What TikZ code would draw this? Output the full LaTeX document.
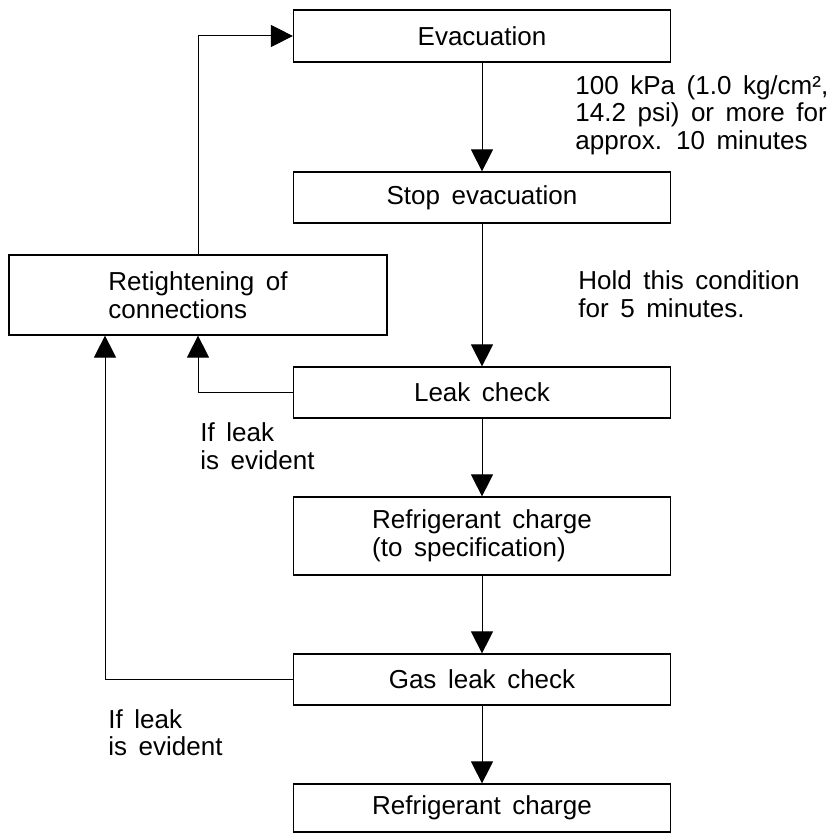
\documentclass[tikz,border=0pt]{standalone}
\usepackage{fontspec}
\setmainfont{Liberation Sans}[WordSpace=1.6]
\usetikzlibrary{arrows.meta}

\begin{document}
\begin{tikzpicture}[x=0.5pt, y=-0.5pt, font=\fontsize{13}{13.75}\selectfont,
	box/.style={draw, line width=0.6pt, minimum width=188.5pt, inner sep=0pt},
	arr/.style={line width=0.5pt, -{Triangle[length=11pt, width=11pt]}},
	note/.style={anchor=west, align=left, inner sep=0pt}]
	\useasboundingbox (0,0) rectangle (840,834);
	\node [box, minimum height=26pt] (evac) at (482,36) {Evacuation};
	\node [box, minimum height=25.5pt] (stopevac) at (482,197.5) {Stop evacuation};
	\node [box, minimum height=40pt, minimum width=189pt, align=left] (retight) at (198,295) {Retightening of\\connections};
	\node [box, minimum height=25.5pt] (leak) at (482,392.5) {Leak check};
	\node [box, minimum height=39pt, align=left] (charge) at (482,536) {Refrigerant charge\\(to specification)};
	\node [box, minimum height=25.5pt] (gasleak) at (482,679.5) {Gas leak check};
	\node [box, minimum height=24pt] (final) at (482,808) {Refrigerant charge};
	\node [note] (vacnote) at (575,115) {100 kPa (1.0 kg/cm²,\\14.2 psi) or more for\\approx. 10 minutes};
	\node [note] (holdnote) at (578,294) {Hold this condition\\for 5 minutes.};
	\node [note] (leaknote) at (200,446) {If leak\\is evident};
	\node [note] (gasnote) at (108,732.5) {If leak\\is evident};
	\draw [arr] (evac) -- (stopevac);
	\draw [arr] (stopevac) -- (leak);
	\draw [arr] (leak) -- (charge);
	\draw [arr] (charge) -- (gasleak);
	\draw [arr] (gasleak) -- (final);
	\draw [arr] (leak.west) -| (retight.south);
	\draw [arr] (gasleak.west) -| ([xshift=-46.5pt]retight.south);
	\draw [arr] (retight.north) |- (evac.west);
\end{tikzpicture}
\end{document}
